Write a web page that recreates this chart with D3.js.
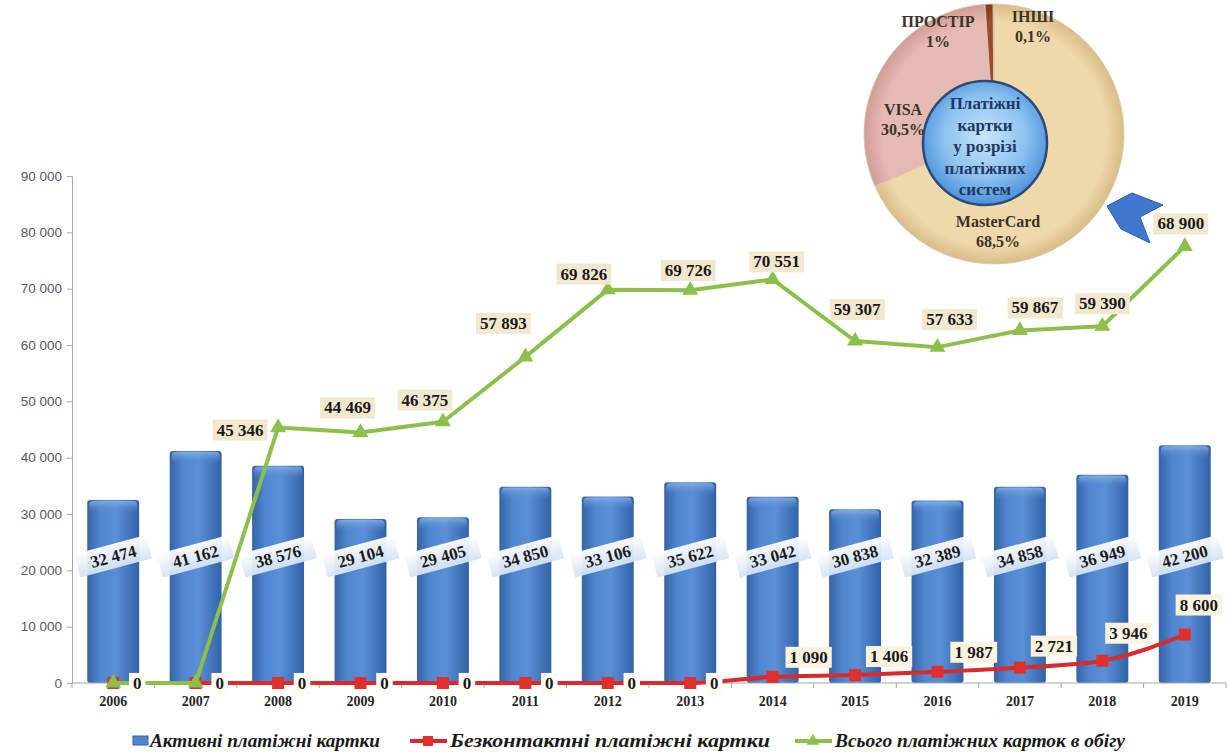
<!DOCTYPE html>
<html><head><meta charset="utf-8">
<script src="https://cdn.jsdelivr.net/npm/d3@7"></script>
<style>
html,body{margin:0;padding:0;background:#fff;}
svg{display:block;}
</style></head>
<body>
<svg id="chart" width="1229" height="754"></svg>
<script>
// ---------- data ----------
const years = ['2006','2007','2008','2009','2010','2011','2012','2013','2014','2015','2016','2017','2018','2019'];
const activeCards = [32474, 41162, 38576, 29104, 29405, 34850, 33106, 35622, 33042, 30838, 32389, 34858, 36949, 42200];
const contactlessCards = [0, 0, 0, 0, 0, 0, 0, 0, 1090, 1406, 1987, 2721, 3946, 8600];
const totalCards = [0, 0, 45346, 44469, 46375, 57893, 69826, 69726, 70551, 59307, 57633, 59867, 59390, 68900];
const yTicks = [0, 10000, 20000, 30000, 40000, 50000, 60000, 70000, 80000, 90000];
const seriesNames = ['Активні платіжні картки', 'Безконтактні платіжні картки', 'Всього платіжних карток в обігу'];
const pieNames = ['MasterCard', 'VISA', 'ПРОСТІР', 'ІНШІ'];
const pieShares = [68.5, 30.5, 1, 0.1];
const pieShareLabels = ['68,5%', '30,5%', '1%', '0,1%'];
const pieTitle = ['Платіжні', 'картки', 'у розрізі', 'платіжних', 'систем'];

// ---------- layout ----------
const svg = d3.select('#chart');
const left = 72, right = 1226, zeroY = 683, topY = 176;
const serif = '"Liberation Serif","Times New Roman",serif';
const sans = '"Liberation Sans",Arial,sans-serif';

const loc = d3.formatLocale({decimal: ',', thousands: '\u00a0', grouping: [3], currency: ['', '']});
const fmt = loc.format(',d');

const x = d3.scaleBand().domain(years).range([left, right]).paddingInner(0.37).paddingOuter(0.185);
const y = d3.scaleLinear().domain([0, 90000]).range([zeroY, topY]);
const cx = d => x(d) + x.bandwidth() / 2;

const defs = svg.append('defs');
const bg = defs.append('linearGradient').attr('id', 'barGrad').attr('x1', '0').attr('x2', '1').attr('y1', '0').attr('y2', '0');
bg.append('stop').attr('offset', '0%').attr('stop-color', '#3563a6');
bg.append('stop').attr('offset', '25%').attr('stop-color', '#4f86cf');
bg.append('stop').attr('offset', '55%').attr('stop-color', '#5a90d8');
bg.append('stop').attr('offset', '100%').attr('stop-color', '#3162a8');
const capG = defs.append('linearGradient').attr('id', 'capGrad').attr('x1', '0').attr('x2', '0').attr('y1', '0').attr('y2', '1');
capG.append('stop').attr('offset', '0%').attr('stop-color', '#8ab4e8');
capG.append('stop').attr('offset', '100%').attr('stop-color', '#4f86cf').attr('stop-opacity', 0);
const lblG = defs.append('linearGradient').attr('id', 'lblGrad').attr('x1', '0').attr('x2', '0').attr('y1', '0').attr('y2', '1');
lblG.append('stop').attr('offset', '0%').attr('stop-color', '#ffffff');
lblG.append('stop').attr('offset', '100%').attr('stop-color', '#d3e3f5');

// ---------- axes ----------
const yAxis = d3.axisLeft(y).tickValues(yTicks).tickSize(5).tickFormat(fmt);
const gy = svg.append('g').attr('transform', `translate(${left},0)`).call(yAxis);
gy.select('.domain').attr('stroke', '#a6a6a6');
gy.selectAll('.tick line').attr('stroke', '#a6a6a6');
gy.selectAll('.tick text').attr('font-family', sans).attr('font-size', 13.5).attr('fill', '#595959').attr('x', -10);

// bars
const bars = svg.append('g');
bars.selectAll('rect.bar').data(years).join('rect').attr('class', 'bar')
  .attr('x', d => x(d)).attr('width', x.bandwidth())
  .attr('y', (d, i) => y(activeCards[i])).attr('height', (d, i) => zeroY - y(activeCards[i]))
  .attr('rx', 3).attr('fill', 'url(#barGrad)');
bars.selectAll('rect.cap').data(years).join('rect').attr('class', 'cap')
  .attr('x', d => x(d) + 2).attr('width', x.bandwidth() - 4)
  .attr('y', (d, i) => y(activeCards[i]) + 1).attr('height', 12)
  .attr('rx', 4).attr('fill', 'url(#capGrad)').attr('opacity', 0.8);

// x axis
const gx = svg.append('g').attr('transform', `translate(0,${zeroY})`);
gx.append('line').attr('x1', left).attr('x2', right).attr('stroke', '#a6a6a6');
const bounds = d3.range(years.length + 1).map(k => left + k * x.step());
gx.selectAll('line.t').data(bounds).join('line').attr('class', 't')
  .attr('x1', d => d).attr('x2', d => d).attr('y1', 0).attr('y2', 5).attr('stroke', '#a6a6a6');
gx.selectAll('text').data(years).join('text')
  .attr('x', d => cx(d)).attr('y', 23).attr('text-anchor', 'middle')
  .attr('font-family', serif).attr('font-weight', 'bold').attr('font-size', 14).attr('fill', '#262626')
  .text(d => d);

// ---------- lines (stacked like the source) ----------
const stackData = years.map((d, i) => ({year: d, contactless: contactlessCards[i], total: totalCards[i]}));
const stacked = d3.stack().keys(['contactless', 'total'])(stackData);
const redPts = stacked[0].map((s, i) => ({x: cx(years[i]), y: y(s[1]), v: contactlessCards[i]}));
const greenPts = stacked[1].map((s, i) => ({x: cx(years[i]), y: y(s[1]), v: totalCards[i]}));
const redLine = d3.line().x(d => d.x).y(d => d.y).curve(d3.curveMonotoneX);
const greenLine = d3.line().x(d => d.x).y(d => d.y).curve(d3.curveLinear);

svg.append('path').attr('d', redLine(redPts)).attr('fill', 'none').attr('stroke', '#d92b2b').attr('stroke-width', 4);
svg.selectAll('rect.rm').data(redPts).join('rect').attr('class', 'rm')
  .attr('x', d => d.x - 6).attr('y', d => d.y - 6).attr('width', 12).attr('height', 12).attr('fill', '#e0302c');

svg.append('path').attr('d', greenLine(greenPts)).attr('fill', 'none').attr('stroke', '#8cc04a').attr('stroke-width', 4).attr('stroke-linejoin', 'round');
const tri = d3.symbol().type(d3.symbolTriangle).size(110);
svg.selectAll('path.gm').data(greenPts).join('path').attr('class', 'gm')
  .attr('transform', d => `translate(${d.x},${d.y})`).attr('d', tri).attr('fill', '#8cc04a');

// ---------- bar value labels ----------
const bl = svg.append('g');
years.forEach((yr, i) => {
  const g = bl.append('g').attr('transform', `translate(${cx(yr)},${y(22500)}) rotate(-15)`);
  g.append('rect').attr('x', -37).attr('y', -12).attr('width', 74).attr('height', 24).attr('fill', 'url(#lblGrad)').attr('opacity', 0.95);
  g.append('text').attr('text-anchor', 'middle').attr('dy', 6).attr('font-family', serif).attr('font-weight', 'bold')
    .attr('font-size', 17).attr('fill', '#1a1a1a').text(fmt(activeCards[i]));
});

// label helper
function boxLabel(parent, px, py, txt, fill, fs) {
  const g = parent.append('g').attr('transform', `translate(${px},${py})`);
  const t = g.append('text').attr('text-anchor', 'middle').attr('dy', '0.35em').attr('font-family', serif)
    .attr('font-weight', 'bold').attr('font-size', fs).attr('fill', '#1a1a1a').text(txt);
  const bb = t.node().getBBox();
  g.insert('rect', 'text').attr('x', bb.x - 4).attr('y', bb.y - 1).attr('width', bb.width + 8).attr('height', bb.height + 2)
    .attr('fill', fill);
  return g;
}

// red labels
const redOff = [[24, 0], [24, 0], [24, 0], [24, 0], [24, 0], [24, 0], [24, 0], [24, 0], [36, -20], [34, -19], [36, -20], [34, -22], [26, -28], [14, -30]];
const rl = svg.append('g');
redPts.forEach((p, i) => boxLabel(rl, p.x + redOff[i][0], p.y + redOff[i][1], fmt(p.v), i < 8 ? '#fffdf6' : '#fbf3e0', 17));

// green labels (2006, 2007 zeros covered by red ones)
const greenOff = [null, null, [-38, 2], [-13, -25], [-18, -22], [-22, -34], [-24, -16], [-2, -20], [4, -18], [2, -32], [12, -28], [15, -23], [0, -23], [-4, -23]];
const gl = svg.append('g');
greenPts.forEach((p, i) => { if (greenOff[i]) boxLabel(gl, p.x + greenOff[i][0], p.y + greenOff[i][1], fmt(p.v), '#f2e8cf', 17); });

// ---------- legend ----------
const lg = svg.append('g').attr('font-family', serif).attr('font-weight', 'bold').attr('font-style', 'italic').attr('font-size', 18).attr('fill', '#1a1a1a');
lg.append('rect').attr('x', 133).attr('y', 736).attr('width', 15).attr('height', 9).attr('fill', '#4f86cf').attr('stroke', '#3563a6');
lg.append('text').attr('x', 150).attr('y', 747).attr('textLength', 230).attr('lengthAdjust', 'spacingAndGlyphs').text(seriesNames[0]);
lg.append('line').attr('x1', 410).attr('x2', 447).attr('y1', 741).attr('y2', 741).attr('stroke', '#d92b2b').attr('stroke-width', 4);
lg.append('rect').attr('x', 423).attr('y', 736).attr('width', 10).attr('height', 10).attr('fill', '#e0302c');
lg.append('text').attr('x', 450).attr('y', 747).attr('textLength', 320).attr('lengthAdjust', 'spacingAndGlyphs').text(seriesNames[1]);
lg.append('line').attr('x1', 795).attr('x2', 832).attr('y1', 741).attr('y2', 741).attr('stroke', '#8cc04a').attr('stroke-width', 4);
lg.append('path').attr('transform', 'translate(813,741)').attr('d', d3.symbol().type(d3.symbolTriangle).size(70)).attr('fill', '#8cc04a');
lg.append('text').attr('x', 835).attr('y', 747).attr('textLength', 290).attr('lengthAdjust', 'spacingAndGlyphs').text(seriesNames[2]);

// ---------- pie (donut inset) ----------
const pcx = 994, pcy = 134, pr = 130;
const pieColors = ['#efd9ab', '#e6bab4', '#9c4a2a', '#c9a070'];
const pieEdge = ['#d9bd88', '#d19b95', '#7f3a20', '#b08858'];
pieColors.forEach((c, i) => {
  const rg = defs.append('radialGradient').attr('id', 'pg' + i).attr('cx', 0).attr('cy', 0).attr('r', pr).attr('gradientUnits', 'userSpaceOnUse');
  rg.append('stop').attr('offset', '0%').attr('stop-color', c);
  rg.append('stop').attr('offset', '86%').attr('stop-color', c);
  rg.append('stop').attr('offset', '100%').attr('stop-color', pieEdge[i]);
});
const pie = d3.pie().sort(null).value(d => d)(pieShares);
const arc = d3.arc().innerRadius(0).outerRadius(pr);
const pg = svg.append('g').attr('transform', `translate(${pcx},${pcy})`);
pg.selectAll('path').data(pie).join('path').attr('d', arc)
  .attr('fill', (d, i) => `url(#pg${i})`)
  .attr('stroke', '#d8c8b0').attr('stroke-width', 0.8);

// inner circle
const ig = defs.append('radialGradient').attr('id', 'innerGrad').attr('cx', '50%').attr('cy', '45%').attr('r', '60%');
ig.append('stop').attr('offset', '0%').attr('stop-color', '#c9e6fb');
ig.append('stop').attr('offset', '55%').attr('stop-color', '#8cc2ef');
ig.append('stop').attr('offset', '100%').attr('stop-color', '#3d86d6');
svg.append('circle').attr('cx', 985).attr('cy', 143).attr('r', 62).attr('fill', 'url(#innerGrad)').attr('stroke', '#2c4a78').attr('stroke-width', 2.5);
svg.append('g').selectAll('text').data(pieTitle).join('text')
  .attr('x', 985).attr('y', (d, i) => 109 + i * 21.5).attr('text-anchor', 'middle')
  .attr('font-family', serif).attr('font-weight', 'bold').attr('font-size', 17).attr('fill', '#1f3864').text(d => d);

// pie labels
const pieLblPos = [[4, 93], [-91, -19], [-56, -107], [39, -112]];
const plg = svg.append('g').attr('font-family', serif).attr('font-weight', 'bold').attr('font-size', 16).attr('fill', '#3a3426').attr('text-anchor', 'middle');
pieNames.forEach((n, i) => {
  plg.append('text').attr('x', pcx + pieLblPos[i][0]).attr('y', pcy + pieLblPos[i][1]).text(n);
  plg.append('text').attr('x', pcx + pieLblPos[i][0]).attr('y', pcy + pieLblPos[i][1] + 20).text(pieShareLabels[i]);
});

// chevron arrow pointing to the total line
svg.append('path').attr('d', 'M1107,206 L1132,193 L1163,205 L1140,217 L1150,243 L1121,229 Z')
  .attr('fill', '#3f78cc').attr('stroke', '#2a5aa6').attr('stroke-width', 1);
</script>
</body></html>
